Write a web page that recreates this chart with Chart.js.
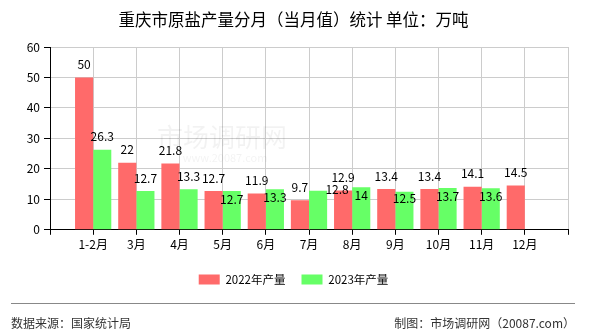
<!DOCTYPE html>
<html>
<head>
<meta charset="utf-8">
<script src="https://cdn.jsdelivr.net/npm/chart.js@4.4.1/dist/chart.umd.min.js"></script>
<style>
  html, body { margin: 0; padding: 0; background: #fff; }
  #wrap { width: 590px; height: 330px; }
</style>
</head>
<body>
<div id="wrap"><canvas id="myChart" width="590" height="330"></canvas></div>
<script>
// data
const months = ['1-2月', '3月', '4月', '5月', '6月', '7月', '8月', '9月', '10月', '11月', '12月'];
const output2022 = [50, 22, 21.8, 12.7, 11.9, 9.7, 12.9, 13.4, 13.4, 14.1, 14.5];
const output2023 = [26.3, 12.7, 13.3, 12.7, 13.3, 12.8, 14, 12.5, 13.7, 13.6, null];
const yTicks = [0, 10, 20, 30, 40, 50, 60];
const seriesNames = ['2022年产量', '2023年产量'];

// where the value labels got nudged in the original (to dodge each other)
const labelShift2023 = [[0, 0], [0, 0], [0, 0], [0, 21], [0, 21], [19, 12], [0, 21], [0, 20], [0, 21], [0, 21], [0, 0]];

const FONT = '"Noto Sans CJK SC", "DejaVu Sans", sans-serif';

// empty slot at both ends so categories sit on the grid lines
const labels = [''].concat(months, ['']);
const pad = (arr) => [null].concat(arr, [null]);

const valueLabels = {
  id: 'valueLabels',
  afterDatasetsDraw(chart) {
    const ctx = chart.ctx;
    ctx.save();
    ctx.font = '12px ' + FONT;
    ctx.fillStyle = '#000';
    ctx.textAlign = 'center';
    ctx.textBaseline = 'middle';
    chart.data.datasets.forEach((ds, di) => {
      const meta = chart.getDatasetMeta(di);
      meta.data.forEach((bar, i) => {
        const v = ds.data[i];
        if (v === null || v === undefined) return;
        let dx = 0, dy = 0;
        if (di === 1) {
          dx = labelShift2023[i - 1][0];
          dy = labelShift2023[i - 1][1];
        }
        ctx.fillText(String(v), bar.x + dx, bar.y - 13 + dy);
      });
    });
    ctx.restore();
  }
};

const decorations = {
  id: 'decorations',
  beforeDatasetsDraw(chart) {
    // faint watermark
    const ctx = chart.ctx;
    ctx.save();
    ctx.fillStyle = 'rgba(0,0,0,0.05)';
    ctx.textAlign = 'center';
    ctx.textBaseline = 'middle';
    ctx.font = '26px ' + FONT;
    ctx.fillText('市场调研网', 222, 137);
    ctx.font = '11px ' + FONT;
    ctx.fillText('www.20087.com', 225, 158);
    ctx.restore();
  },
  afterDraw(chart) {
    const ctx = chart.ctx;
    ctx.save();
    ctx.strokeStyle = '#888';
    ctx.lineWidth = 1;
    ctx.beginPath();
    ctx.moveTo(11, 303.5);
    ctx.lineTo(575, 303.5);
    ctx.stroke();
    ctx.fillStyle = '#333';
    ctx.font = '12px ' + FONT;
    ctx.textBaseline = 'middle';
    ctx.textAlign = 'left';
    ctx.fillText('数据来源：国家统计局', 11, 323);
    ctx.textAlign = 'right';
    ctx.fillText('制图：市场调研网（20087.com）', 575, 323);
    ctx.restore();
  }
};

const ctx = document.getElementById('myChart').getContext('2d');
const myChart = new Chart(ctx, {
  type: 'bar',
  data: {
    labels: labels,
    datasets: [
      {
        label: seriesNames[0],
        data: pad(output2022),
        backgroundColor: '#ff6a6a',
        categoryPercentage: 0.84,
        barPercentage: 1.0
      },
      {
        label: seriesNames[1],
        data: pad(output2023),
        backgroundColor: '#66ff66',
        categoryPercentage: 0.84,
        barPercentage: 1.0
      }
    ]
  },
  options: {
    responsive: false,
    animation: false,
    layout: { padding: { left: 19, right: 22, top: 0, bottom: 34.7 } },
    plugins: {
      title: {
        display: true,
        text: '重庆市原盐产量分月（当月值）统计 单位：万吨',
        color: '#000',
        font: { family: FONT, size: 16.5, weight: 'normal' },
        padding: { top: 10.1, bottom: 17.1 }
      },
      legend: {
        position: 'bottom',
        labels: {
          boxWidth: 21,
          boxHeight: 10,
          padding: 16,
          color: '#000',
          font: { family: FONT, size: 11.5 }
        }
      },
      tooltip: { enabled: false }
    },
    scales: {
      x: {
        offset: false,
        grid: { offset: false, color: '#cccccc', tickColor: '#000', tickLength: 5 },
        border: { color: '#000' },
        ticks: {
          color: '#000',
          padding: 2,
          maxRotation: 0,
          autoSkip: false,
          font: { family: FONT, size: 12 }
        },
        afterFit(scale) { scale.height = 28; }
      },
      y: {
        min: 0,
        max: 60,
        afterBuildTicks(scale) { scale.ticks = yTicks.map(v => ({ value: v })); },
        grid: { color: '#cccccc', tickColor: '#000', tickLength: 6 },
        border: { color: '#000' },
        ticks: {
          color: '#000',
          padding: 4,
          font: { family: FONT, size: 12 }
        },
        afterFit(scale) { scale.width = 31; }
      }
    }
  },
  plugins: [valueLabels, decorations]
});
</script>
</body>
</html>
